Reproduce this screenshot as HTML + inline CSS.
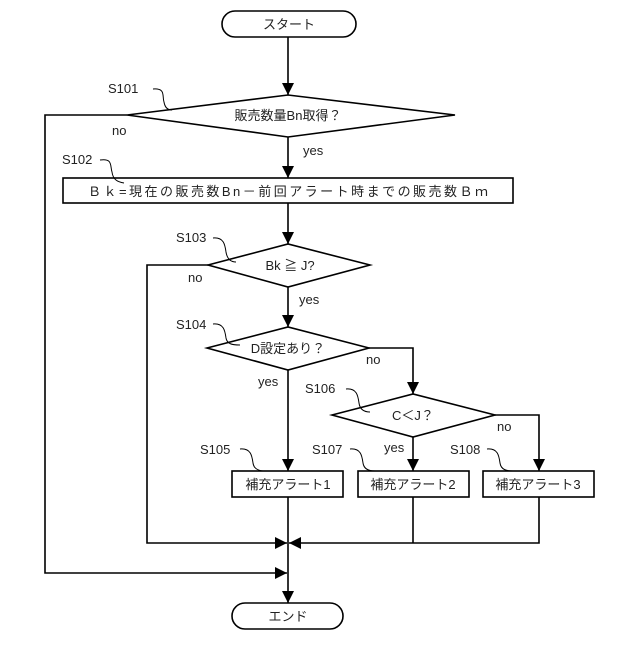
<!DOCTYPE html>
<html><head><meta charset="utf-8"><style>
html,body{margin:0;padding:0;background:#fff}
svg text{font-family:"Liberation Sans","Noto Sans CJK JP",sans-serif;fill:#222}
</style></head><body>
<svg width="640" height="640" viewBox="0 0 640 640" xmlns="http://www.w3.org/2000/svg">
<defs>
<marker id="a" viewBox="0 0 10 10" refX="10" refY="5" markerWidth="12" markerHeight="12" markerUnits="userSpaceOnUse" orient="auto"><path d="M0,0 L10,5 L0,10 z" fill="#000"/></marker>
</defs>
<g stroke="#000" stroke-width="1.6" fill="none">
<rect x="222" y="11" width="134" height="26" rx="13" fill="#fff"/>
<line x1="288" y1="37" x2="288" y2="95" marker-end="url(#a)"/>
<polygon points="127,115 288,95 455,115 288,137" fill="#fff"/>
<line x1="288" y1="137" x2="288" y2="178" marker-end="url(#a)"/>
<rect x="63" y="178" width="450" height="25" fill="#fff"/>
<line x1="288" y1="203" x2="288" y2="244" marker-end="url(#a)"/>
<polygon points="208,265 288,244 370,265 288,287" fill="#fff"/>
<line x1="288" y1="287" x2="288" y2="327" marker-end="url(#a)"/>
<polygon points="207,348 288,327 369,348 288,370" fill="#fff"/>
<line x1="288" y1="370" x2="288" y2="471" marker-end="url(#a)"/>
<polyline points="369,348 413,348 413,394" marker-end="url(#a)"/>
<polygon points="332,415 413,394 495,415 413,437" fill="#fff"/>
<line x1="413" y1="437" x2="413" y2="471" marker-end="url(#a)"/>
<polyline points="495,415 539,415 539,471" marker-end="url(#a)"/>
<rect x="232" y="471" width="111" height="26" fill="#fff"/>
<rect x="358" y="471" width="111" height="26" fill="#fff"/>
<rect x="483" y="471" width="111" height="26" fill="#fff"/>
<line x1="288" y1="497" x2="288" y2="603" marker-end="url(#a)"/>
<polyline points="208,265 147,265 147,543 287,543" marker-end="url(#a)"/>
<polyline points="413,497 413,543"/>
<polyline points="539,497 539,543 289,543" marker-end="url(#a)"/>
<polyline points="127,115 45,115 45,573 287,573" marker-end="url(#a)"/>
<rect x="232" y="603" width="111" height="26" rx="13" fill="#fff"/>
<g stroke-width="1">
<path d="M153,89 C166,88 162,96 164,102 C165,108 168,110 172,110"/>
<path d="M100,160 C113,158 110,166 112,172 C113,180 118,182 124,183"/>
<path d="M213,238 C224,237 225,245 226,252 C227,258 230,262 236,262"/>
<path d="M213,324 C224,323 225,331 226,338 C227,344 232,345 240,345"/>
<path d="M346,389 C357,388 358,396 359,403 C360,410 365,412 370,412"/>
<path d="M240,449 C251,448 252,456 253,463 C254,470 260,471 265,471"/>
<path d="M350,449 C361,448 362,456 363,463 C364,470 370,471 375,471"/>
<path d="M487,449 C498,448 499,456 500,463 C501,470 507,471 513,471"/>
</g>
</g>
<g font-size="13">
<text x="289" y="29" text-anchor="middle">スタート</text>
<text x="288" y="120" text-anchor="middle">販売数量Bn取得？</text>
<text x="288" y="196" text-anchor="middle" textLength="400">Ｂｋ=現在の販売数Bn－前回アラート時までの販売数Ｂｍ</text>
<text x="290" y="270" text-anchor="middle">Bk ≧ J?</text>
<text x="288" y="353" text-anchor="middle">D設定あり？</text>
<text x="413" y="420" text-anchor="middle">C＜J？</text>
<text x="288" y="489" text-anchor="middle">補充アラート1</text>
<text x="413" y="489" text-anchor="middle">補充アラート2</text>
<text x="538" y="489" text-anchor="middle">補充アラート3</text>
<text x="288" y="621" text-anchor="middle">エンド</text>
<text x="108" y="93">S101</text>
<text x="62" y="164">S102</text>
<text x="176" y="242">S103</text>
<text x="176" y="329">S104</text>
<text x="305" y="393">S106</text>
<text x="200" y="454">S105</text>
<text x="312" y="454">S107</text>
<text x="450" y="454">S108</text>
<text x="112" y="135">no</text>
<text x="303" y="155">yes</text>
<text x="188" y="282">no</text>
<text x="299" y="304">yes</text>
<text x="366" y="364">no</text>
<text x="258" y="386">yes</text>
<text x="497" y="431">no</text>
<text x="384" y="452">yes</text>
</g>
</svg>
</body></html>
